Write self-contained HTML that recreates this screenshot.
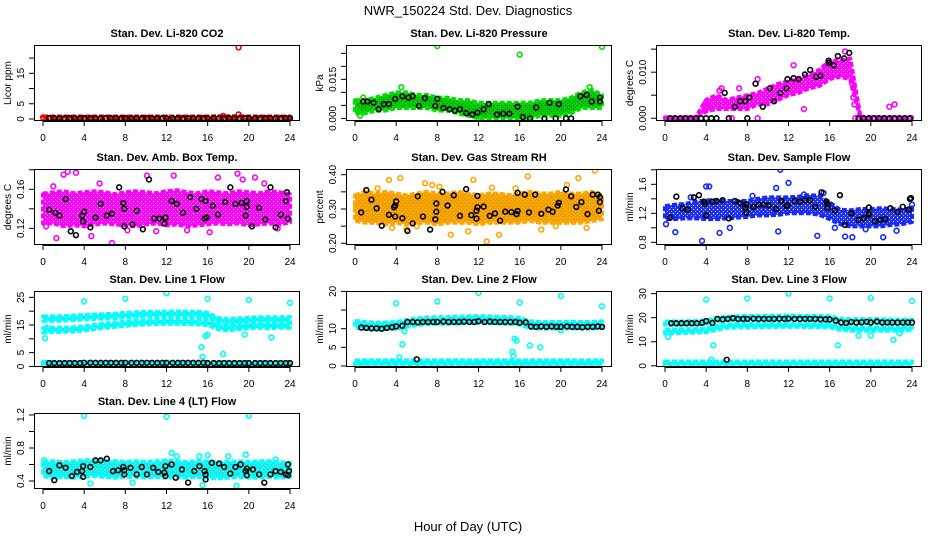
<!DOCTYPE html>
<html><head><meta charset="utf-8"><style>
html,body{margin:0;padding:0;background:#fff;}
svg{display:block;font-family:"Liberation Sans",sans-serif;}
</style></head>
<body>
<svg id="chart" width="936" height="540" viewBox="0 0 936 540">
<defs id="defs"></defs>
<text x="468" y="15" text-anchor="middle" font-size="13">NWR_150224 Std. Dev. Diagnostics</text>
<text x="468" y="531" text-anchor="middle" font-size="13">Hour of Day (UTC)</text>
</svg>
<script>
// ---- shared ----
const xTicks=[0,4,8,12,16,20,24];
const blackHours=[0.6,1.1,1.6,2.1,2.6,3.1,3.6,4.0,4.6,5.1,5.6,6.1,6.6,7.1,7.6,8.0,8.6,9.1,9.6,10.1,10.6,11.1,11.6,12.0,12.6,13.1,13.6,14.1,14.6,15.1,15.6,16.0,16.6,17.1,17.6,18.1,18.6,19.1,19.6,20.0,20.6,21.1,21.6,22.1,22.6,23.1,23.6,24.0];
const bandHours=[0,1,2,3,4,5,6,7,8,9,10,11,12,13,14,15,16,17,18,19,20,21,22,23,24];

// ---- P1 CO2 ----
const co2Lo=[0.1,0.1,0.1,0.1,0.1,0.1,0.1,0.1,0.1,0.1,0.1,0.1,0.1,0.1,0.1,0.1,0.1,0.1,0.1,0.1,0.1,0.1,0.1,0.1,0.1];
const co2Hi=[0.8,0.8,0.8,0.8,0.8,0.8,0.8,0.8,0.8,0.8,0.8,0.8,0.8,0.8,0.8,0.8,0.8,0.9,0.9,0.9,0.8,0.8,0.8,0.8,0.8];
const co2OutX=[19,19,17.5,0];
const co2OutY=[23.5,1.5,1.0,0.5];
const co2BlackY=[0.3,0.3,0.3,0.3,0.3,0.3,0.3,0.3,0.3,0.3,0.3,0.3,0.3,0.3,0.3,0.3,0.3,0.3,0.3,0.3,0.3,0.3,0.3,0.3,0.3,0.3,0.3,0.3,0.3,0.3,0.3,0.3,0.3,0.3,0.3,0.3,0.3,0.3,0.3,0.3,0.3,0.3,0.3,0.3,0.3,0.3,0.3,0.3];

// ---- P2 Pressure ----
const presLo=[0.002,0.002,0.003,0.003,0.004,0.004,0.004,0.004,0.003,0.003,0.002,0.001,0.000,0.000,0.000,0.000,0.000,0.000,0.001,0.001,0.001,0.002,0.004,0.004,0.004];
const presHi=[0.007,0.007,0.008,0.009,0.010,0.010,0.009,0.009,0.008,0.008,0.007,0.007,0.006,0.006,0.006,0.006,0.006,0.006,0.007,0.007,0.007,0.008,0.010,0.011,0.009];
const presOutX=[8,16,24,4.5,22.8,0.5,12.2,0.8,0.1];
const presOutY=[0.0278,0.0245,0.0275,0.012,0.012,0.001,0.0,0.008,0.0035];
const presBlackX=[0.8,1.2,1.8,2.3,2.8,3.3,3.9,4.6,5.2,5.6,6.2,6.8,7.8,8.0,8.6,9.2,9.7,10.2,10.8,11.4,11.9,12.5,13.0,13.8,14.4,15.0,15.8,16.3,17.0,17.6,18.4,18.9,19.5,19.8,20.5,21.0,21.9,22.5,23.0,23.8,23.8];
const presBlackY=[0.0065,0.0065,0.006,0.0035,0.0055,0.0055,0.0075,0.0085,0.008,0.0085,0.0048,0.0078,0.0048,0.0075,0.004,0.0035,0.003,0.0035,0.002,0.0015,0.0022,0.0035,0.0055,0.0015,0.0018,0.0018,0.0045,0.0005,0.0,0.0042,0.0,0.006,0.0,0.0055,0.0,0.0,0.0085,0.009,0.0065,0.008,0.0065];

// ---- P3 Li-820 Temp ----
const tempLo=[0,0,0,0,0.0015,0.002,0.002,0.002,0.002,0.003,0.003,0.004,0.005,0.0055,0.0065,0.007,0.0085,0.009,0.0085,0,0,0,0,0,0];
const tempHi=[0.0002,0.0002,0.0002,0.0002,0.004,0.005,0.004,0.0045,0.005,0.0055,0.0065,0.0075,0.008,0.0085,0.0095,0.0105,0.0125,0.0125,0.013,0.0002,0.0002,0.0002,0.0002,0.0002,0.0002];
const tempOutX=[17.5,18.2,18.3,18.3,18.4,21.8,22.3,6.5,9,13.5,12.5,7.2,5.5,9,18.5,4.0,4.2,5.3];
const tempOutY=[0.0145,0.0075,0.0065,0.0045,0.003,0.0025,0.003,0.0,0.0,0.002,0.0115,0.0065,0.0065,0.0085,0.0,0.0035,0.0025,0.006];
const tempBlackX=[0.5,1,1.5,2,2.5,3,3.5,4,4.5,5,6.2,8,18.8,19.3,19.8,20.3,20.8,21.3,21.8,22.3,22.8,23.3,23.8,5.8,6.8,7.3,7.8,8.2,8.8,9.5,10.2,10.6,11.2,11.8,11.9,12.5,13.0,13.6,14.1,14.7,15.1,15.9,15.9,16.4,16.8,17.4,17.9];
const tempBlackY=[0,0,0,0,0,0,0,0,0,0,0,0,0,0,0,0,0,0,0,0,0,0,0,0.0055,0.0025,0.0037,0.0037,0.0045,0.0075,0.0025,0.0065,0.0037,0.0055,0.0065,0.0085,0.0087,0.0085,0.0095,0.0105,0.009,0.0092,0.0125,0.012,0.0115,0.0135,0.013,0.0142];

// ---- P4 Amb Box Temp ----
const ambLo=[0.125,0.125,0.122,0.123,0.122,0.124,0.125,0.124,0.123,0.122,0.124,0.125,0.123,0.124,0.122,0.123,0.124,0.125,0.124,0.125,0.123,0.124,0.125,0.124,0.126];
const ambHi=[0.155,0.157,0.158,0.156,0.157,0.158,0.157,0.155,0.157,0.158,0.157,0.156,0.158,0.159,0.157,0.156,0.158,0.157,0.156,0.158,0.157,0.156,0.158,0.157,0.155];
const ambOutX=[2.4,3.2,2,1.3,4.7,6.7,10.1,12.7,15.5,17,18.9,20.3,20.6,0.2,16.2,19.4,0.3,1.0,5.5,8.2,11,14,21.5,22.8];
const ambOutY=[0.178,0.177,0.175,0.110,0.112,0.105,0.174,0.174,0.101,0.172,0.176,0.101,0.172,0.155,0.116,0.170,0.122,0.163,0.166,0.118,0.117,0.118,0.166,0.120];
const ambBlackX=[0.6,1.2,1.6,2.2,2.7,3.2,3.8,3.9,4.0,4.6,5.1,5.6,6.2,6.7,7.4,7.8,7.9,7.9,8.7,9.1,9.7,10.3,10.8,11.3,11.8,11.9,12.5,13.0,13.6,14.3,14.9,15.4,15.8,15.7,15.9,16.5,17.0,17.7,18.2,18.7,19.3,19.7,19.8,19.8,20.3,21.0,21.6,22.1,22.6,23.1,23.6,23.7,23.8];
const ambBlackY=[0.139,0.136,0.133,0.150,0.117,0.113,0.133,0.127,0.137,0.121,0.131,0.145,0.133,0.135,0.162,0.146,0.140,0.122,0.124,0.138,0.119,0.170,0.130,0.130,0.125,0.131,0.148,0.145,0.136,0.152,0.140,0.150,0.148,0.130,0.131,0.143,0.134,0.147,0.162,0.145,0.146,0.133,0.148,0.142,0.122,0.141,0.129,0.162,0.121,0.134,0.148,0.157,0.130];

// ---- P5 Gas Stream RH ----
const rhLo=[0.265,0.26,0.26,0.255,0.26,0.255,0.26,0.26,0.255,0.26,0.26,0.26,0.255,0.26,0.26,0.26,0.26,0.265,0.26,0.26,0.26,0.26,0.26,0.265,0.27];
const rhHi=[0.34,0.35,0.345,0.35,0.345,0.34,0.345,0.35,0.345,0.345,0.35,0.345,0.34,0.345,0.345,0.34,0.345,0.35,0.345,0.345,0.35,0.345,0.345,0.35,0.34];
const rhOutX=[3.3,4.4,6.8,11.5,16.8,21.7,23.3,12.8,9.3,14,5,18.1,3.6,22.5,11,7.5,20.6,0.1,2.2,8.2,13.3,15.6,19.5,6.0];
const rhOutY=[0.385,0.39,0.375,0.385,0.395,0.39,0.412,0.205,0.225,0.225,0.24,0.24,0.245,0.245,0.235,0.37,0.37,0.31,0.36,0.365,0.362,0.36,0.25,0.25];
const rhBlackX=[0.6,1.1,1.6,2.1,2.6,3.3,3.8,3.9,3.9,4.0,4.6,5.1,5.6,6.1,6.6,7.3,7.8,7.9,7.9,8.5,9.0,9.6,10.2,10.8,11.3,11.8,11.8,11.9,11.9,12.5,13.1,13.6,14.1,14.6,15.2,15.7,15.8,15.8,16.5,16.9,17.5,18.1,18.8,19.2,19.7,19.8,20.5,21.0,21.5,22.0,22.6,23.1,23.6,23.7,23.8,23.8];
const rhBlackY=[0.29,0.355,0.327,0.302,0.251,0.283,0.305,0.310,0.278,0.322,0.273,0.236,0.258,0.337,0.278,0.24,0.270,0.316,0.292,0.350,0.310,0.340,0.280,0.358,0.282,0.272,0.295,0.305,0.338,0.307,0.280,0.287,0.266,0.292,0.291,0.285,0.294,0.347,0.342,0.29,0.342,0.286,0.298,0.292,0.31,0.318,0.357,0.337,0.306,0.32,0.285,0.342,0.342,0.295,0.335,0.32];

// ---- P6 Sample Flow ----
const sfLo=[1.12,1.12,1.13,1.13,1.12,1.12,1.13,1.14,1.15,1.17,1.17,1.18,1.2,1.2,1.2,1.18,1.12,1.05,1.02,1.02,1.02,1.02,1.04,1.05,1.08];
const sfHi=[1.3,1.32,1.33,1.36,1.38,1.38,1.37,1.37,1.37,1.4,1.42,1.42,1.42,1.43,1.45,1.44,1.35,1.25,1.24,1.26,1.26,1.27,1.26,1.25,1.28];
const sfOutX=[4,4.3,11.2,12,10.8,3.6,5.3,1,11,14.8,17.5,18.2,21.2,0.1,15.4,16.5,24,6.3,2.5,8.5,13.5,19.5,22.5];
const sfOutY=[1.57,1.57,1.8,1.62,1.55,0.82,0.93,0.94,0.95,0.89,0.88,0.87,0.87,1.05,1.48,1.0,1.32,1.0,1.42,1.44,1.46,0.98,0.96];
const sfBlackX=[0.5,1.1,1.7,2.2,2.8,3.3,3.8,3.9,4.0,4.6,5.0,5.6,6.2,6.8,7.3,7.8,7.9,7.9,8.6,9.1,9.6,10.1,10.8,11.3,11.8,11.9,12.6,13.1,13.6,14.1,14.6,15.2,15.7,15.8,15.8,16.5,17.0,17.5,18.1,18.8,19.3,19.8,19.8,19.8,20.4,20.9,21.4,21.9,22.6,23.1,23.7,23.8,23.9];
const sfBlackY=[1.14,1.43,1.27,1.25,1.42,1.45,1.36,1.33,1.17,1.36,1.37,1.38,1.13,1.37,1.34,1.28,1.32,1.21,1.29,1.32,1.32,1.31,1.26,1.37,1.30,1.31,1.37,1.36,1.38,1.38,1.29,1.49,1.36,1.33,1.27,1.24,1.45,1.04,1.20,1.11,1.13,1.18,1.20,1.28,1.09,1.11,1.12,1.27,1.22,1.29,1.25,1.40,1.41];

// ---- P7 Line 1 Flow ----
const l1UpLo=[16.5,16.5,16.6,16.8,17,17.2,17.3,17.5,17.8,18,18.2,18.2,18.3,18.3,18.2,18.2,17.8,16,15.5,15.8,16,16.2,16.2,16.2,16.3];
const l1UpHi=[18.1,18.1,18.2,18.4,18.6,18.8,18.9,19.1,19.4,19.6,19.8,19.8,19.9,19.9,19.8,19.8,19.4,17.6,17.1,17.4,17.6,17.8,17.8,17.8,17.9];
const l1LoLo=[12.3,12.5,12.5,12.7,13,13.5,14,14.3,14.7,15,15.2,15.3,15.4,15.4,15.3,15.2,15,13.5,13,13.5,13.8,14,13.8,14,14];
const l1LoHi=[13.8,14,14,14.2,14.5,15,15.5,15.8,16.2,16.5,16.7,16.8,16.9,16.9,16.8,16.7,16.5,15,14.5,15,15.3,15.5,15.3,15.5,15.5];
const l1ZLo=[0.5,0.5,0.5,0.5,0.5,0.5,0.5,0.5,0.5,0.5,0.5,0.5,0.5,0.5,0.5,0.5,0.5,0.5,0.5,0.5,0.5,0.5,0.5,0.5,0.5];
const l1ZHi=[1.6,1.6,1.6,1.6,1.6,1.6,1.6,1.6,1.6,1.6,1.6,1.6,1.6,1.6,1.6,1.6,1.6,1.6,1.6,1.6,1.6,1.6,1.6,1.6,1.6];
const l1OutX=[0.2,0.4,4,8,12,16,20,24,15.4,15.5,15.8,16,17.5,19.6,22.2];
const l1OutY=[10.2,14,23.5,24.5,26.5,24.5,24,23,7,3.5,11,11.5,4.5,11.5,10.5];
const l1BlackY=[1.2,1.2,1.2,1.2,1.2,1.2,1.2,1.3,1.3,1.3,1.3,1.3,1.3,1.3,1.3,1.3,1.3,1.3,1.3,1.3,1.3,1.3,1.3,1.3,1.3,1.3,1.3,1.3,1.3,1.3,1.3,1.2,1.2,1.2,1.2,1.2,1.2,1.2,1.2,1.2,1.2,1.2,1.2,1.2,1.2,1.2,1.2,1.2];

// ---- P8 Line 2 Flow ----
const l2Lo=[10.3,10,9.8,9.9,10,10.5,11,11.2,11.3,11.3,11.4,11.5,11.6,11.5,11.4,11.3,11.1,10.2,10,10,10,10.1,10,10,10.2];
const l2Hi=[12.1,11.8,11.6,11.7,11.8,12.3,12.8,13,13.1,13.1,13.2,13.3,13.4,13.3,13.2,13.1,12.9,12,11.8,11.8,11.8,11.9,11.8,11.8,12];
const l2ZLo=[0.3,0.3,0.3,0.3,0.3,0.3,0.3,0.3,0.3,0.3,0.3,0.3,0.3,0.3,0.3,0.3,0.3,0.3,0.3,0.3,0.3,0.3,0.3,0.3,0.3];
const l2ZHi=[1.5,1.5,1.5,1.5,1.5,1.5,1.5,1.5,1.5,1.5,1.5,1.5,1.5,1.5,1.5,1.5,1.5,1.5,1.5,1.5,1.5,1.5,1.5,1.5,1.5];
const l2OutX=[4,8,12,16,20,24,4.3,4.6,4.8,15.3,15.4,15.5,15.7,17,18,20];
const l2OutY=[16.8,17.3,19.6,17,18.8,16,2.3,5.8,9.3,3.8,2.7,7.3,6.8,5.5,5,9.5];
const l2BlackY=[10.3,10.2,10.1,10.1,10.0,10.2,10.4,10.6,10.8,11.8,11.8,11.7,11.8,11.8,11.8,11.8,11.9,11.8,11.8,11.8,11.9,11.8,11.8,12.0,11.8,11.9,11.8,11.8,11.8,11.8,11.8,11.6,11.7,10.6,10.5,10.6,10.5,10.6,10.5,10.5,10.6,10.5,10.5,10.4,10.5,10.5,10.6,10.5];

// ---- P9 Line 3 Flow ----
const l3UpLo=[17,17,17.1,17.2,17.5,18.5,19,19.2,19.3,19.3,19.4,19.4,19.5,19.4,19.4,19.3,19.2,18.2,18,18,18,18,17.8,17.8,17.8];
const l3UpHi=[18.4,18.4,18.5,18.6,18.9,19.9,20.4,20.6,20.7,20.7,20.8,20.8,20.9,20.8,20.8,20.7,20.6,19.6,19.4,19.4,19.4,19.4,19.2,19.2,19.2];
const l3LoLo=[13.5,13.6,13.7,13.8,14,15,15.8,16,16,16.1,16.1,16.2,16.2,16.2,16.1,16.1,16,15,14.6,14.6,14.5,14.6,14.6,14.7,14.8];
const l3LoHi=[15,15.1,15.2,15.3,15.5,16.5,17.2,17.4,17.4,17.5,17.5,17.6,17.6,17.6,17.5,17.5,17.4,16.4,16,16,15.9,16,16,16.1,16.2];
const l3ZLo=[0.3,0.3,0.3,0.3,0.3,0.3,0.3,0.3,0.3,0.3,0.3,0.3,0.3,0.3,0.3,0.3,0.3,0.3,0.3,0.3,0.3,0.3,0.3,0.3,0.3];
const l3ZHi=[1.8,1.8,1.8,1.8,1.8,1.8,1.8,1.8,1.8,1.8,1.8,1.8,1.8,1.8,1.8,1.8,1.8,1.8,1.8,1.8,1.8,1.8,1.8,1.8,1.8];
const l3OutX=[0.3,4,8,12,16,20,24,4.7,16.8,18.8,20,22.2,22.8,4.5];
const l3OutY=[12,27.5,28,30,28,28.2,27,8.5,8.5,12.5,12.5,10.8,13.5,2.5];
const l3BlackY=[17.7,17.7,17.7,17.7,17.7,17.7,17.9,18.6,17.8,19.5,19.3,19.5,19.8,19.5,19.5,19.5,19.6,19.5,19.5,19.5,19.5,19.6,19.5,19.6,19.5,19.5,19.5,19.5,19.5,19.4,19.3,19.3,18.8,18.0,17.8,18.2,18.0,18.1,18.3,18.0,18.4,18.0,18.0,18.0,18.0,18.0,18.0,18.0];

// ---- P10 Line 4 (LT) Flow ----
const l4Lo=[0.46,0.44,0.45,0.44,0.45,0.46,0.45,0.44,0.45,0.45,0.44,0.45,0.44,0.45,0.44,0.45,0.44,0.43,0.44,0.45,0.44,0.44,0.45,0.44,0.45];
const l4Hi=[0.63,0.64,0.63,0.64,0.65,0.65,0.64,0.64,0.63,0.64,0.63,0.64,0.65,0.64,0.63,0.64,0.64,0.63,0.63,0.64,0.63,0.64,0.64,0.63,0.62];
const l4OutX=[4,12,20,12.5,15.2,16,19.7,18,4.6,18.8,15.5,0.1,22.6,13,8.7];
const l4OutY=[1.19,1.18,1.19,0.74,0.70,0.71,0.72,0.70,0.37,0.34,0.35,0.65,0.66,0.70,0.38];
const l4BlackX=[0.6,1.1,1.6,2.2,2.8,3.3,3.8,3.9,3.9,4.6,5.1,5.6,6.2,6.8,7.3,7.8,7.9,7.9,8.5,9.1,9.6,10.1,10.7,11.2,11.8,11.9,11.9,12.5,12.9,13.5,14.1,14.7,15.2,15.7,15.8,15.8,16.4,17.1,17.6,18.2,18.7,19.2,19.7,19.8,19.8,20.4,21.0,21.5,22.1,22.6,23.1,23.6,23.8,23.8,23.9];
const l4BlackY=[0.52,0.41,0.59,0.56,0.46,0.51,0.52,0.45,0.58,0.57,0.65,0.65,0.67,0.52,0.53,0.57,0.53,0.48,0.56,0.48,0.57,0.48,0.56,0.51,0.50,0.58,0.46,0.60,0.44,0.54,0.38,0.52,0.58,0.52,0.48,0.42,0.62,0.61,0.57,0.49,0.57,0.60,0.52,0.55,0.47,0.54,0.48,0.38,0.48,0.52,0.51,0.48,0.60,0.47,0.52];

const NS='http://www.w3.org/2000/svg';
const svg=document.getElementById('chart');
const defs=document.getElementById('defs');
function mk(tag,attrs,parent){const e=document.createElementNS(NS,tag);for(const k in attrs)e.setAttribute(k,attrs[k]);(parent||svg).appendChild(e);return e;}

const colL=[34,346,656];
const rowT=[45,169,291,413];
const PW=266, PH=76;

const panels=[
 {name:'co2',title:'Stan. Dev. Li-820 CO2',yt:'Licor ppm',c:0,r:0,dom:[-0.66,24.3],ticks:[0,5,10,15,20],tl:['0','5','','15',''],col:'#ff0000',band:'#ff0000',dot:'#ffffff',bands:[[co2Lo,co2Hi]],ox:co2OutX,oy:co2OutY,bx:blackHours,by:co2BlackY},
 {name:'pressure',title:'Stan. Dev. Li-820 Pressure',yt:'kPa',c:1,r:0,dom:[-0.001,0.0282],ticks:[0,0.005,0.010,0.015,0.020,0.025],tl:['0.000','','','0.015','',''],col:'#00e000',band:'#00d000',dot:'#0a3a0a',bands:[[presLo,presHi]],ox:presOutX,oy:presOutY,bx:presBlackX,by:presBlackY},
 {name:'li820-temp',title:'Stan. Dev. Li-820 Temp.',yt:'degrees C',c:2,r:0,dom:[-0.0006,0.0159],ticks:[0,0.005,0.010,0.015],tl:['0.000','','0.010',''],col:'#ff00ff',band:'#ff00ff',dot:'#ffffff',bands:[[tempLo,tempHi]],ox:tempOutX,oy:tempOutY,bx:tempBlackX,by:tempBlackY},
 {name:'amb-box-temp',title:'Stan. Dev. Amb. Box Temp.',yt:'degrees C',c:0,r:1,dom:[0.1029,0.1808],ticks:[0.12,0.14,0.16,0.18],tl:['0.12','','0.16',''],col:'#ff00ff',band:'#ff00ff',dot:'#ffffff',bands:[[ambLo,ambHi]],ox:ambOutX,oy:ambOutY,bx:ambBlackX,by:ambBlackY},
 {name:'gas-stream-rh',title:'Stan. Dev. Gas Stream RH',yt:'percent',c:1,r:1,dom:[0.195,0.4166],ticks:[0.20,0.25,0.30,0.35,0.40],tl:['0.20','','0.30','','0.40'],col:'#ffa500',band:'#f59a00',dot:'#ffee00',bands:[[rhLo,rhHi]],ox:rhOutX,oy:rhOutY,bx:rhBlackX,by:rhBlackY},
 {name:'sample-flow',title:'Stan. Dev. Sample Flow',yt:'ml/min',c:2,r:1,dom:[0.763,1.811],ticks:[0.8,1.0,1.2,1.4,1.6,1.8],tl:['0.8','','1.2','','1.6',''],col:'#1428ff',band:'#1e32f0',dot:'#ffffff',bands:[[sfLo,sfHi]],ox:sfOutX,oy:sfOutY,bx:sfBlackX,by:sfBlackY},
 {name:'line1-flow',title:'Stan. Dev. Line 1 Flow',yt:'ml/min',c:0,r:2,dom:[-0.2,27.3],ticks:[0,5,10,15,20,25],tl:['0','5','','15','','25'],col:'#00ffff',band:'#00f4f4',dot:'#ffffff',bands:[[l1UpLo,l1UpHi],[l1LoLo,l1LoHi],[l1ZLo,l1ZHi]],ox:l1OutX,oy:l1OutY,bx:blackHours,by:l1BlackY},
 {name:'line2-flow',title:'Stan. Dev. Line 2 Flow',yt:'ml/min',c:1,r:2,dom:[-0.27,20.1],ticks:[0,5,10,15,20],tl:['0','5','10','','20'],col:'#00ffff',band:'#00f4f4',dot:'#ffffff',bands:[[l2Lo,l2Hi],[l2ZLo,l2ZHi]],ox:l2OutX,oy:l2OutY,bx:blackHours.concat([6.0]),by:l2BlackY.concat([1.8])},
 {name:'line3-flow',title:'Stan. Dev. Line 3 Flow',yt:'ml/min',c:2,r:2,dom:[-0.5,31.1],ticks:[0,10,20,30],tl:['0','10','20','30'],col:'#00ffff',band:'#00f4f4',dot:'#ffffff',bands:[[l3UpLo,l3UpHi],[l3LoLo,l3LoHi],[l3ZLo,l3ZHi]],ox:l3OutX,oy:l3OutY,bx:blackHours.concat([6.0]),by:l3BlackY.concat([2.5])},
 {name:'line4-flow',title:'Stan. Dev. Line 4 (LT) Flow',yt:'ml/min',c:0,r:3,dom:[0.303,1.224],ticks:[0.4,0.6,0.8,1.0,1.2],tl:['0.4','','0.8','','1.2'],col:'#00ffff',band:'#00f4f4',dot:'#ffffff',bands:[[l4Lo,l4Hi]],ox:l4OutX,oy:l4OutY,bx:l4BlackX,by:l4BlackY}
];

panels.forEach(p=>{
  const L=colL[p.c], T=rowT[p.r], R=L+PW, B=T+PH;
  const xs=h=>L+9+h*247/24;
  const ys=v=>B-(v-p.dom[0])/(p.dom[1]-p.dom[0])*PH;
  // speckle pattern for dense point cloud
  const pat=mk('pattern',{id:'pat-'+p.name,width:4,height:4,patternUnits:'userSpaceOnUse'},defs);
  mk('rect',{x:0,y:0,width:4,height:4,fill:p.band},pat);
  mk('rect',{x:1,y:1,width:1,height:1,fill:p.dot},pat);
  mk('rect',{x:3,y:3,width:1,height:1,fill:p.dot,'fill-opacity':0.6},pat);
  const g=mk('g',{});
  
  
  const clip=mk('clipPath',{id:'clip-'+p.name},g);
  mk('rect',{x:L,y:T,width:PW,height:PH},clip);
  const pg=mk('g',{'clip-path':'url(#clip-'+p.name+')'},g);
  p.bands.forEach((bd,bi)=>{
    const lo=bd[0],hi=bd[1];
    let pts=bandHours.map((h,i)=>xs(h)+','+ys(hi[i]));
    for(let i=bandHours.length-1;i>=0;i--)pts.push(xs(bandHours[i])+','+ys(lo[i]));
    const poly=mk('polygon',{points:pts.join(' '),fill:'url(#pat-'+p.name+')',stroke:p.col,'stroke-width':4,'stroke-linejoin':'round','stroke-dasharray':'5 2'},pg);
    
    
  });
  p.ox.forEach((x,i)=>{
    const c=mk('circle',{cx:xs(x),cy:ys(p.oy[i]),r:2.4,fill:'none',stroke:p.col,'stroke-width':1.6},pg);
    
    
  });
  p.bx.forEach((x,i)=>{
    const c=mk('circle',{cx:xs(x),cy:ys(p.by[i]),r:2.4,fill:'none',stroke:'#000','stroke-width':1.6},pg);
    
    
  });
  const box=mk('rect',{x:L+0.5,y:T+0.5,width:PW-1,height:PH-1,fill:'none',stroke:'#000','stroke-width':1},g);
  
  
  mk('line',{x1:xs(0),x2:xs(24),y1:B+0.5,y2:B+0.5,stroke:'#000'},g);
  xTicks.forEach(t=>{
    mk('line',{x1:xs(t),x2:xs(t),y1:B,y2:B+5,stroke:'#000'},g);
    const tx=mk('text',{x:xs(t),y:B+20,'text-anchor':'middle','font-size':10},g);
    tx.textContent=t;
    
    
  });
  mk('line',{x1:L+0.5,x2:L+0.5,y1:ys(p.ticks[0]),y2:ys(p.ticks[p.ticks.length-1]),stroke:'#000'},g);
  p.ticks.forEach((t,i)=>{
    mk('line',{x1:L-5,x2:L,y1:ys(t),y2:ys(t),stroke:'#000'},g);
    if(p.tl[i]){
      const tx=mk('text',{x:0,y:0,'text-anchor':'middle','font-size':10,transform:'translate('+(L-10)+','+ys(t)+') rotate(-90)'},g);
      tx.textContent=p.tl[i];
      
      
    }
  });
  const yt=mk('text',{x:0,y:0,'text-anchor':'middle','font-size':10,transform:'translate('+(L-23)+','+(T+PH/2)+') rotate(-90)'},g);
  yt.textContent=p.yt;
  
  
  const tt=mk('text',{x:L+PW/2,y:T-8,'text-anchor':'middle','font-size':11,'font-weight':'bold'},g);
  tt.textContent=p.title;
  
  
});
</script>
</body></html>
